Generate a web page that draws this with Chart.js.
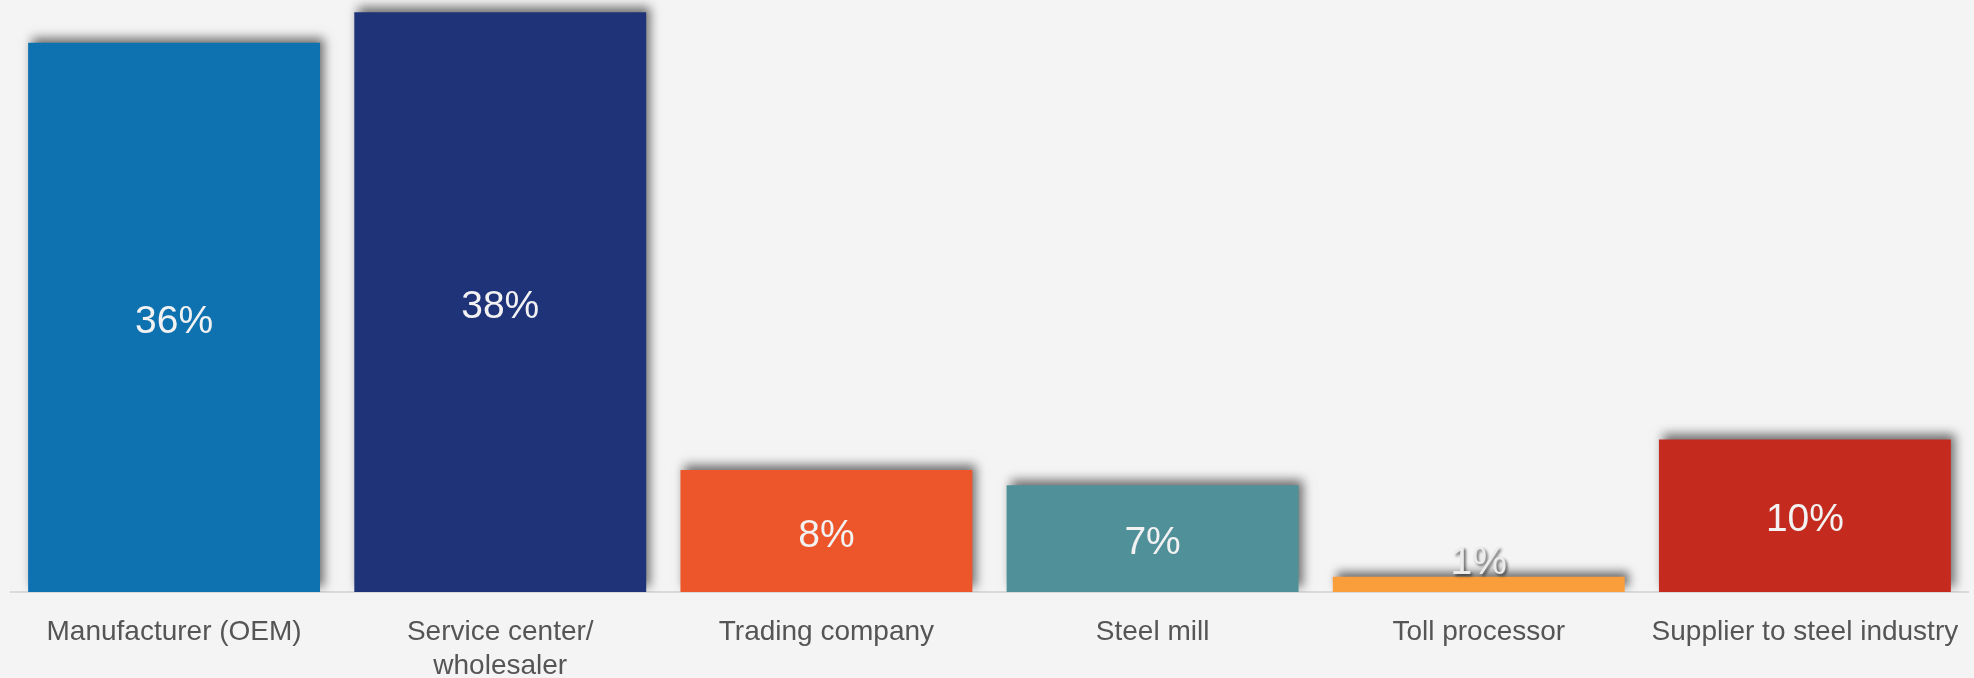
<!DOCTYPE html>
<html>
<head>
<meta charset="utf-8">
<script src="https://cdn.jsdelivr.net/npm/chart.js@4"></script>
<style>
  body { margin: 0; background: #f4f4f4; }
  #wrap { width: 1974px; height: 678px; }
</style>
</head>
<body>
<div id="wrap"><canvas id="buyerChart" width="1974" height="678"></canvas></div>
<script>
// chart data
var categories = ['Manufacturer (OEM)', ['Service center/', 'wholesaler'], 'Trading company', 'Steel mill', 'Toll processor', 'Supplier to steel industry'];
var shareValues = [36, 38, 8, 7, 1, 10];
var barColors = ['#0F72B0', '#1F3379', '#EC562A', '#509199', '#F99E3A', '#C52A1E'];

// shadow behind bars (up and to the right)
var barShadow = {
    id: 'barShadow',
    beforeDatasetsDraw(chart) {
        var ctx = chart.ctx;
        ctx.save();
        ctx.shadowColor = 'rgba(0,0,0,0.55)';
        ctx.shadowBlur = 10;
        ctx.shadowOffsetX = 4;
        ctx.shadowOffsetY = -5;
    },
    afterDatasetsDraw(chart) {
        chart.ctx.restore();
    }
};

// percent labels inside the bars
var valueLabels = {
    id: 'valueLabels',
    afterDatasetsDraw(chart) {
        var ctx = chart.ctx;
        var meta = chart.getDatasetMeta(0);
        ctx.save();
        ctx.font = '39px "Liberation Sans", Arial, sans-serif';
        ctx.textAlign = 'center';
        ctx.textBaseline = 'middle';
        for (var i = 0; i < meta.data.length; i++) {
            var bar = meta.data[i];
            var txt = shareValues[i] + '%';
            var h = bar.base - bar.y;
            if (h < 50) {
                // too small: sits just above the bar, with a shadow
                ctx.shadowColor = 'rgba(0,0,0,0.6)';
                ctx.shadowBlur = 3;
                ctx.shadowOffsetX = 2;
                ctx.shadowOffsetY = 2;
                ctx.fillStyle = '#ececec';
                ctx.fillText(txt, bar.x, bar.y - 13);
                ctx.shadowColor = 'transparent';
            } else {
                ctx.fillStyle = '#f2f2f2';
                ctx.fillText(txt, bar.x, (bar.y + bar.base) / 2 + 5);
            }
        }
        ctx.restore();
    }
};

var ctx = document.getElementById('buyerChart').getContext('2d');
var chart = new Chart(ctx, {
    type: 'bar',
    data: {
        labels: categories,
        datasets: [{
            data: shareValues,
            backgroundColor: barColors,
            borderWidth: 0,
            categoryPercentage: 1,
            barPercentage: 0.895
        }]
    },
    options: {
        responsive: false,
        animation: false,
        devicePixelRatio: 1,
        layout: { padding: { left: 11, right: 6, top: 0, bottom: 0 } },
        plugins: {
            legend: { display: false },
            tooltip: { enabled: false }
        },
        scales: {
            y: { display: false, min: 0, max: 38.8 },
            x: {
                grid: { display: false, drawTicks: false },
                border: { display: true, color: '#dadada', width: 2 },
                ticks: {
                    color: '#555555',
                    padding: 23,
                    maxRotation: 0,
                    autoSkip: false,
                    font: { family: '"Liberation Sans", Arial, sans-serif', size: 28, lineHeight: 1.22 }
                },
                afterFit(axis) {
                    axis.height = 86;
                    axis.paddingLeft = 0;
                    axis.paddingRight = 0;
                }
            }
        }
    },
    plugins: [barShadow, valueLabels]
});
</script>
</body>
</html>
